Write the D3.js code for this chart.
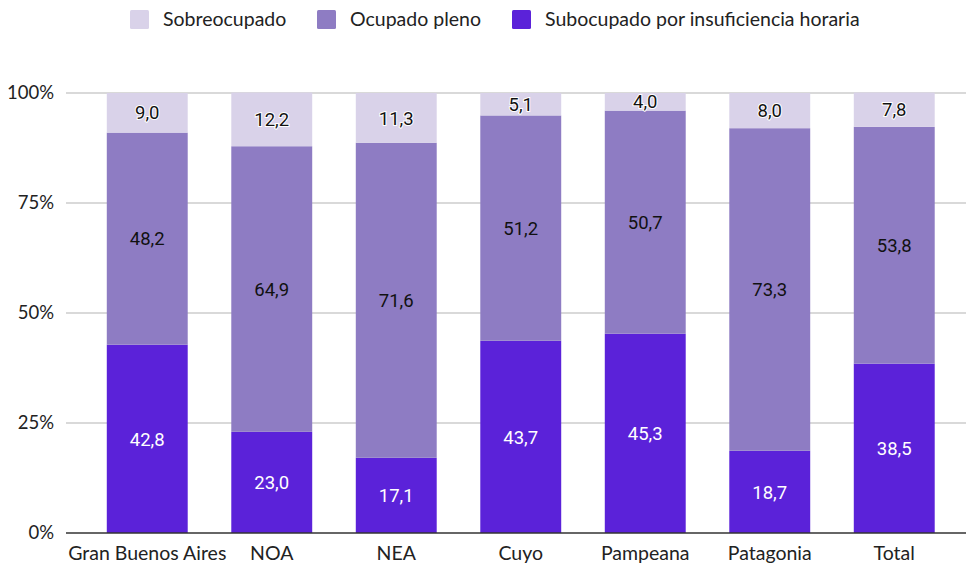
<!DOCTYPE html>
<html><head><meta charset="utf-8">
<script src="https://cdn.jsdelivr.net/npm/d3@7"></script>
<style>body{margin:0;background:#fff}svg{display:block}</style>
</head><body><svg id="c" width="966" height="564"></svg>
<script>
const categories = ["Gran Buenos Aires","NOA","NEA","Cuyo","Pampeana","Patagonia","Total"];
const subocupado = [42.8,23.0,17.1,43.7,45.3,18.7,38.5];
const ocupadoPleno = [48.2,64.9,71.6,51.2,50.7,73.3,53.8];
const sobreocupado = [9.0,12.2,11.3,5.1,4.0,8.0,7.8];
const seriesNames = ["Subocupado por insuficiencia horaria","Ocupado pleno","Sobreocupado"];
const legendOrder = ["Sobreocupado","Ocupado pleno","Subocupado por insuficiencia horaria"];
const yTicks = [0,25,50,75,100];

const colors = {"Subocupado por insuficiencia horaria":"#5b22d9","Ocupado pleno":"#8e7cc3","Sobreocupado":"#d9d2e9"};
const labelColors = {"Subocupado por insuficiencia horaria":"#ffffff","Ocupado pleno":"#111","Sobreocupado":"#111"};
const axisFont = "Lato, 'Open Sans', sans-serif";
const labelFont = "Roboto, sans-serif";

const svg = d3.select("#c");
const x = d3.scaleBand().domain(categories).range([85,956.5]).paddingInner(0.35).paddingOuter(0.175);
const y = d3.scaleLinear().domain([0,100]).range([533,93]);

const rows = categories.map((c,i)=>({cat:c,
  "Subocupado por insuficiencia horaria":subocupado[i],
  "Ocupado pleno":ocupadoPleno[i],
  "Sobreocupado":sobreocupado[i]}));
const stack = d3.stack().keys(seriesNames)(rows);

// grid
svg.append("g").selectAll("line").data(yTicks.filter(t=>t>0)).join("line")
  .attr("x1",66).attr("x2",966).attr("y1",d=>y(d)).attr("y2",d=>y(d))
  .attr("stroke","#cccccc").attr("stroke-width",1.3);
svg.append("g").selectAll("text").data(yTicks).join("text")
  .attr("x",54).attr("y",d=>y(d)).attr("dy","0.35em").attr("text-anchor","end")
  .style("font-family",axisFont).style("font-size","18.5px").attr("fill","#222")
  .text(d=>d+"%");

// bars
const layers = svg.append("g").selectAll("g").data(stack).join("g").attr("fill",d=>colors[d.key]);
layers.selectAll("rect").data(d=>d).join("rect")
  .attr("x",d=>x(d.data.cat)).attr("width",x.bandwidth())
  .attr("y",d=>y(d[1])).attr("height",d=>y(d[0])-y(d[1]));

// baseline
svg.append("line").attr("x1",66).attr("x2",966).attr("y1",y(0)).attr("y2",y(0))
  .attr("stroke","#333").attr("stroke-width",1.3);

// labels
const lg = svg.append("g");
stack.forEach(s=>{
  lg.selectAll(null).data(s).join("text")
    .attr("x",d=>x(d.data.cat)+x.bandwidth()/2)
    .attr("y",d=>y((d[0]+d[1])/2)).attr("dy","0.36em")
    .attr("text-anchor","middle")
    .style("font-family",labelFont).style("font-size","18.5px")
    .attr("fill",labelColors[s.key])
    .attr("stroke", s.key==="Sobreocupado" ? "#ffffff" : "none")
    .attr("stroke-width", 2).attr("paint-order","stroke")
    .text(d=>(d[1]-d[0]).toFixed(1).replace(".",","));
});

// x labels
svg.append("g").selectAll("text").data(categories).join("text")
  .attr("x",d=>x(d)+x.bandwidth()/2).attr("y",553).attr("dy","0.35em")
  .attr("text-anchor","middle").style("font-family",axisFont).style("font-size","19.5px")
  .attr("fill","#222").text(d=>d);

// legend
const legX = [130,317,512];
const leg = svg.append("g").selectAll("g").data(legendOrder).join("g")
  .attr("transform",(d,i)=>`translate(${legX[i]},10)`);
leg.append("rect").attr("width",19).attr("height",19).attr("rx",1.5).attr("fill",d=>colors[d]);
leg.append("text").attr("x",33).attr("y",9.5).attr("dy","0.35em")
  .style("font-family",axisFont).style("font-size","19.5px").attr("fill","#222").text(d=>d);
</script></body></html>
